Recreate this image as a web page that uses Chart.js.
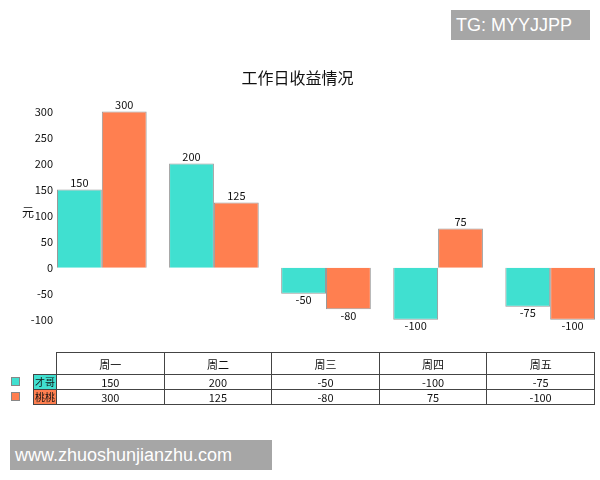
<!DOCTYPE html>
<html>
<head>
<meta charset="utf-8">
<script src="https://cdn.jsdelivr.net/npm/chart.js@4"></script>
<style>
  body { margin: 0; background: #fff; font-family: "Noto Sans CJK SC", "Noto Sans", sans-serif; }
  #wrap { position: relative; width: 600px; height: 480px; }
  canvas { position: absolute; left: 0; top: 0; }
  table { position: absolute; left: 33px; top: 352px; border-collapse: collapse; font-size: 11px; color: #111; table-layout: fixed; }
  td { border: 1px solid #444; text-align: center; padding: 0; height: 14px; line-height: 14px; }
  tr.head td { height: 21px; }
  td.corner { border: none; }
  td.name { width: 22px; font-size: 10px; }
  .sq { position: absolute; left: 11px; width: 7px; height: 7px; border: 1px solid #888; }
  .wm { position: absolute; background: #a6a6a6; color: #fff; font-family: "Liberation Sans", Arial, sans-serif; font-size: 18px; line-height: 30px; padding-left: 5px; }
</style>
</head>
<body>
<div id="wrap">
  <canvas id="c" width="600" height="480"></canvas>
  <table id="tbl"></table>
  <div class="wm" style="left:451px;top:10px;width:134px;height:30px;">TG: MYYJJPP</div>
  <div class="wm" style="left:10px;top:440px;width:257px;height:30px;">www.zhuoshunjianzhu.com</div>
</div>
<script>
const days = ['周一', '周二', '周三', '周四', '周五']
const names = ['才哥', '桃桃']
const caige = [150, 200, -50, -100, -75]
const taotao = [300, 125, -80, 75, -100]
const colors = ['#40E0D0', '#FF7F50']
const yTicks = [-100, -50, 0, 50, 100, 150, 200, 250, 300]

const series = [caige, taotao]

// value labels above / below bars
const barLabels = {
    id: 'barLabels',
    afterDatasetsDraw(chart) {
        const ctx = chart.ctx
        ctx.save()
        ctx.font = '11px "Noto Sans CJK SC", sans-serif'
        ctx.fillStyle = '#111'
        ctx.textAlign = 'center'
        chart.data.datasets.forEach((ds, i) => {
            chart.getDatasetMeta(i).data.forEach((bar, j) => {
                const v = ds.data[j].y
                if (v >= 0) {
                    ctx.textBaseline = 'bottom'
                    ctx.fillText(v, bar.x, bar.y - 1)
                } else {
                    ctx.textBaseline = 'top'
                    ctx.fillText(v, bar.x, bar.y + 1)
                }
            })
        })
        // unit label
        ctx.font = '12px "Noto Sans CJK SC", sans-serif'
        ctx.textBaseline = 'middle'
        ctx.fillText('元', 28, 212)
        ctx.restore()
    }
}

new Chart(document.getElementById('c'), {
    type: 'bar',
    data: {
        datasets: series.map((s, i) => ({
            label: names[i],
            data: s.map((v, j) => ({ x: j, y: v })),
            backgroundColor: colors[i],
            borderColor: 'rgba(110,110,110,0.7)',
            borderWidth: 1,
            categoryPercentage: 0.8,
            barPercentage: 1.0
        }))
    },
    options: {
        responsive: false,
        animation: false,
        layout: { padding: { top: 60, bottom: 155, right: 5, left: 0 } },
        plugins: {
            legend: { display: false },
            tooltip: { enabled: false },
            title: {
                display: true,
                text: '工作日收益情况',
                color: '#111',
                font: { size: 16, family: '"Noto Sans CJK SC", sans-serif', weight: 'normal' },
                padding: { top: 8, bottom: 19 }
            }
        },
        scales: {
            x: {
                type: 'linear',
                display: false,
                offset: false,
                min: -0.4,
                max: 4.4,
                afterBuildTicks: (scale) => { scale.ticks = days.map((d, i) => ({ value: i })) }
            },
            y: {
                min: -110,
                max: 310,
                grid: { display: false, drawTicks: false },
                border: { display: false },
                ticks: { color: '#111', padding: 4, font: { size: 11, family: '"Noto Sans CJK SC", sans-serif' } },
                afterBuildTicks: (scale) => { scale.ticks = yTicks.map(v => ({ value: v })) },
                afterFit: (scale) => { scale.width = 57 }
            }
        }
    },
    plugins: [barLabels]
})

// data table under the chart
const tbl = document.getElementById('tbl')
const colW = (595 - 57) / days.length
let html = '<tr class="head"><td class="corner name"></td>' + days.map(d => `<td style="width:${colW - 1}px">${d}</td>`).join('') + '</tr>'
series.forEach((s, i) => {
    html += `<tr><td class="name" style="background:${colors[i]}">${names[i]}</td>` + s.map(v => `<td>${v}</td>`).join('') + '</tr>'
})
tbl.innerHTML = html
const wrap = document.getElementById('wrap')
colors.forEach((c, i) => {
    const sq = document.createElement('div')
    sq.className = 'sq'
    sq.style.background = c
    sq.style.top = (377 + i * 15) + 'px'
    wrap.appendChild(sq)
})
</script>
</body>
</html>
